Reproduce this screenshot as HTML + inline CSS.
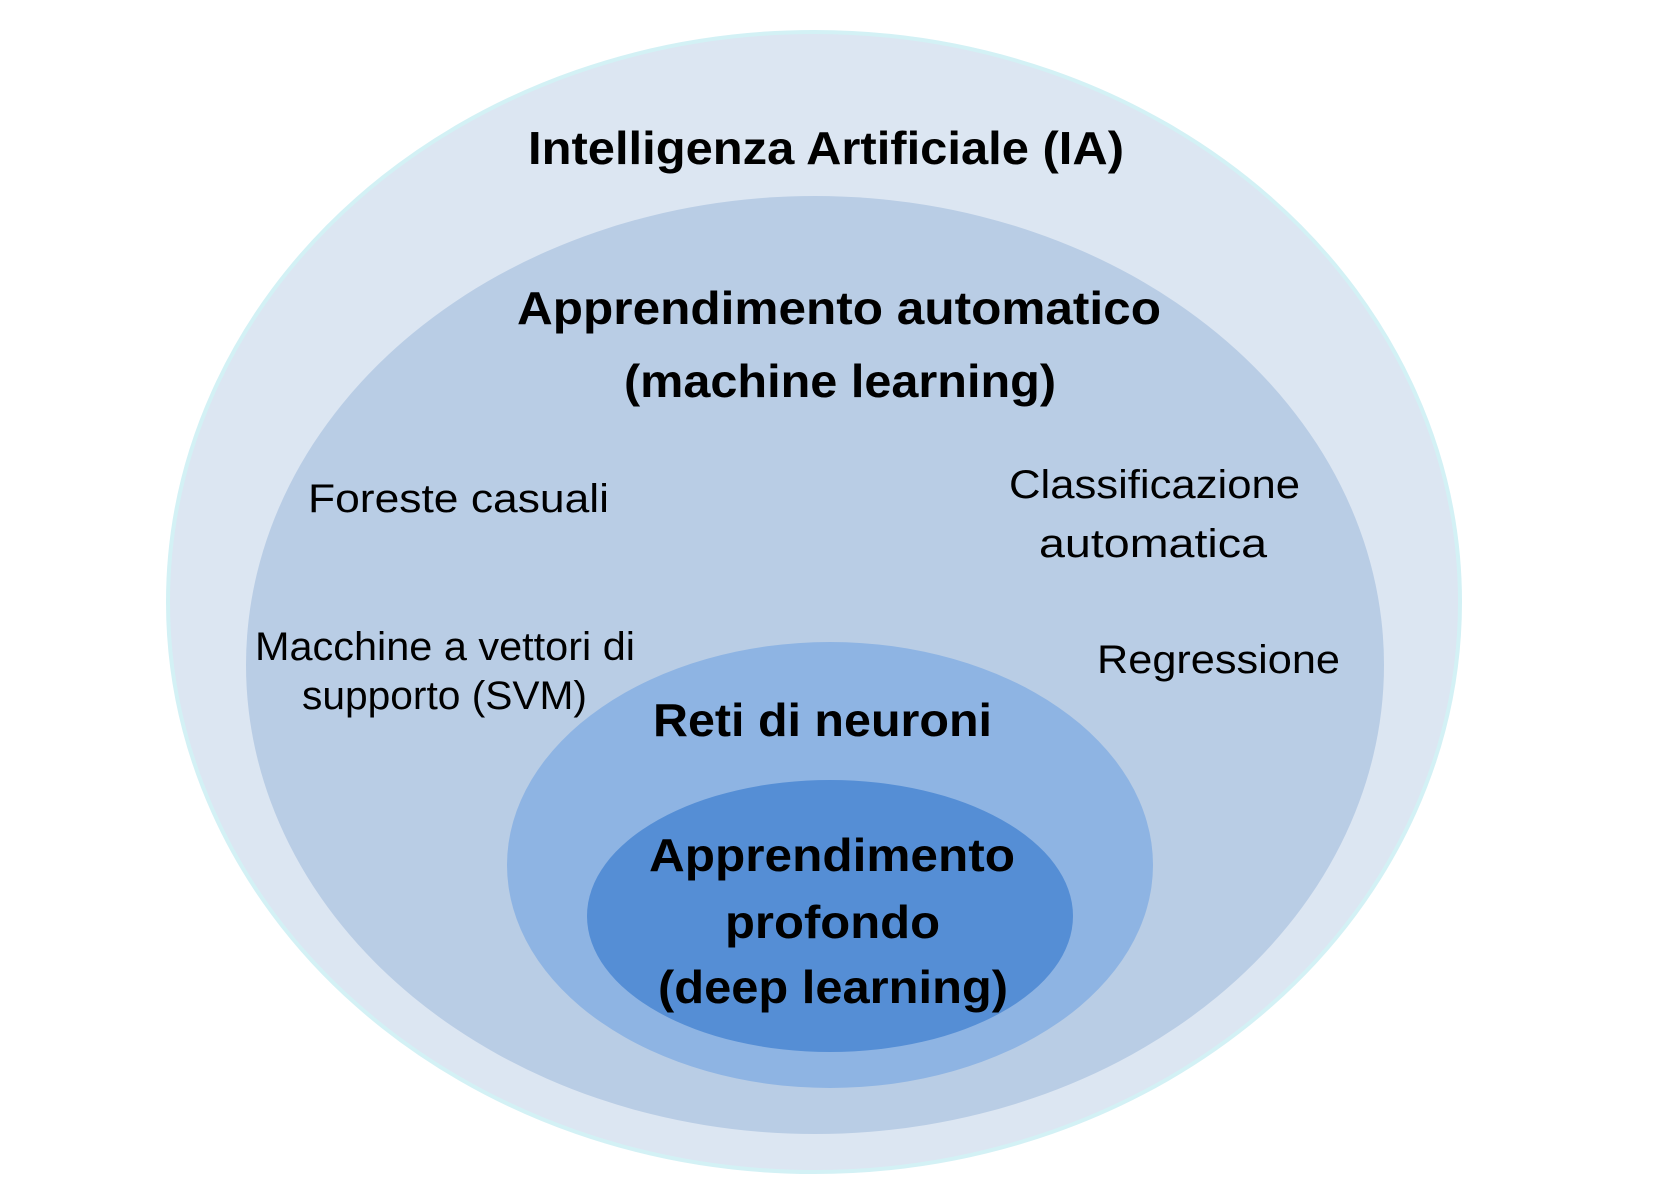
<!DOCTYPE html>
<html><head><meta charset="utf-8"><style>html,body{margin:0;padding:0;background:#fff}svg{display:block}</style></head>
<body>
<svg width="1654" height="1202" viewBox="0 0 1654 1202" xmlns="http://www.w3.org/2000/svg" font-family="Liberation Sans, sans-serif" fill="#000">
<ellipse cx="814" cy="602" rx="646" ry="570" fill="#dce6f2" stroke="#d3f1f5" stroke-width="4"/>
<ellipse cx="815" cy="665" rx="569" ry="469" fill="#b9cde5"/>
<ellipse cx="830" cy="865" rx="323" ry="223" fill="#8eb4e3"/>
<ellipse cx="830" cy="916" rx="243" ry="136" fill="#558ed5"/>
<g font-weight="bold" font-size="46">
<text x="528" y="164" textLength="596" lengthAdjust="spacingAndGlyphs">Intelligenza Artificiale (IA)</text>
<text x="517" y="324" textLength="644" lengthAdjust="spacingAndGlyphs">Apprendimento automatico</text>
<text x="624" y="397" textLength="432" lengthAdjust="spacingAndGlyphs">(machine learning)</text>
<text x="653" y="736" textLength="339" lengthAdjust="spacingAndGlyphs">Reti di neuroni</text>
<text x="649" y="871" textLength="366" lengthAdjust="spacingAndGlyphs">Apprendimento</text>
<text x="725" y="938" textLength="215" lengthAdjust="spacingAndGlyphs">profondo</text>
<text x="658" y="1003" textLength="350" lengthAdjust="spacingAndGlyphs">(deep learning)</text>
</g>
<g font-size="40">
<text x="308" y="512" textLength="301" lengthAdjust="spacingAndGlyphs">Foreste casuali</text>
<text x="1009" y="498" textLength="291" lengthAdjust="spacingAndGlyphs">Classificazione</text>
<text x="1039" y="557" textLength="228" lengthAdjust="spacingAndGlyphs">automatica</text>
<text x="255" y="660" textLength="380" lengthAdjust="spacingAndGlyphs">Macchine a vettori di</text>
<text x="302" y="709" textLength="285" lengthAdjust="spacingAndGlyphs">supporto (SVM)</text>
<text x="1097" y="673" textLength="243" lengthAdjust="spacingAndGlyphs">Regressione</text>
</g>
</svg>
</body></html>
